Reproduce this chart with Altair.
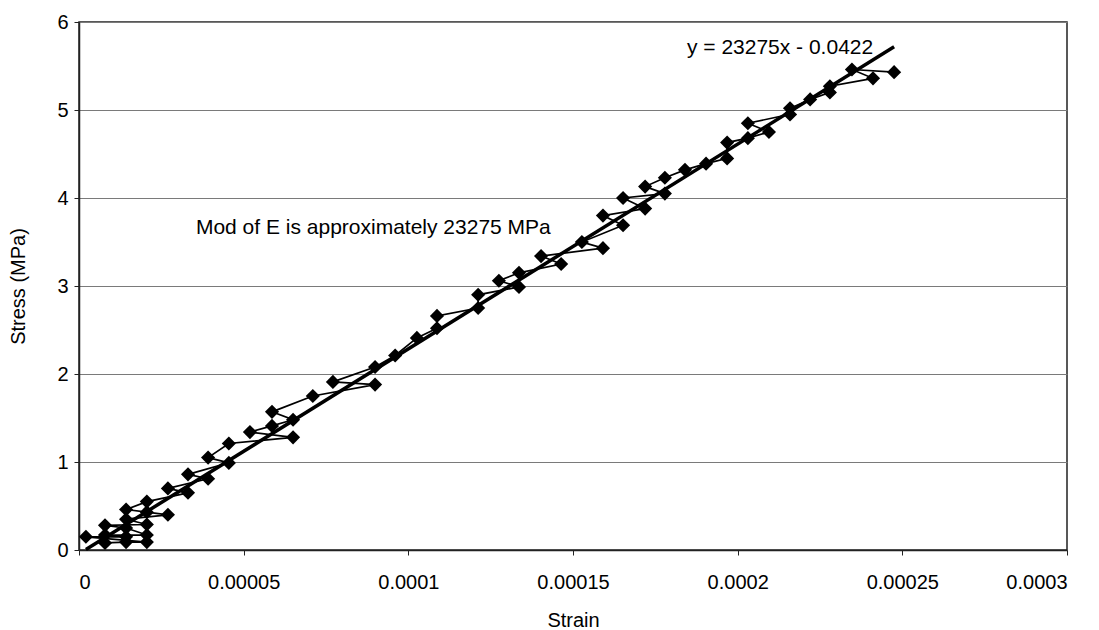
import altair as alt
import pandas as pd

# Strain / stress readings in load order
strain = [
    0.0000079, 0.0000143, 0.0000206, 0.0000021, 0.0000143, 0.0000079, 0.0000206,
    0.0000143, 0.0000079, 0.0000206, 0.0000143, 0.0000270, 0.0000206, 0.0000143,
    0.0000206, 0.0000331, 0.0000270, 0.0000392, 0.0000331, 0.0000455, 0.0000392,
    0.0000455, 0.0000650, 0.0000519, 0.0000586, 0.0000650, 0.0000586, 0.0000710,
    0.0000899, 0.0000771, 0.0000899, 0.0000960, 0.0001026, 0.0001087, 0.0001087,
    0.0001212, 0.0001212, 0.0001336, 0.0001275, 0.0001336, 0.0001464, 0.0001403,
    0.0001591, 0.0001527, 0.0001652, 0.0001591, 0.0001719, 0.0001652, 0.0001779,
    0.0001719, 0.0001779, 0.0001840, 0.0001904, 0.0001968, 0.0001968, 0.0002031,
    0.0002095, 0.0002031, 0.0002159, 0.0002159, 0.0002220, 0.0002280, 0.0002280,
    0.0002411, 0.0002347, 0.0002475,
]
stress = [
    0.08, 0.09, 0.09, 0.15, 0.15, 0.17, 0.17,
    0.25, 0.28, 0.29, 0.35, 0.40, 0.43, 0.46,
    0.55, 0.65, 0.70, 0.81, 0.86, 0.99, 1.05,
    1.21, 1.28, 1.34, 1.41, 1.48, 1.57, 1.75,
    1.88, 1.91, 2.08, 2.21, 2.41, 2.52, 2.66,
    2.75, 2.90, 2.99, 3.06, 3.15, 3.25, 3.34,
    3.43, 3.50, 3.69, 3.80, 3.88, 4.00, 4.05,
    4.13, 4.23, 4.32, 4.39, 4.45, 4.63, 4.68,
    4.75, 4.85, 4.95, 5.02, 5.12, 5.20, 5.27,
    5.36, 5.46, 5.43,
]

# Linear trendline coefficients
slope = 23275
intercept = -0.0422

x_ticks = [0, 0.00005, 0.0001, 0.00015, 0.0002, 0.00025, 0.0003]
y_ticks = [0, 1, 2, 3, 4, 5, 6]

FONT = "Liberation Sans"
FS = 20
NOTE_FS = 21

points = pd.DataFrame({"order": list(range(len(strain))), "strain": strain, "stress": stress})
fit = pd.DataFrame({"strain": [min(strain), max(strain)]})
fit["stress"] = slope * fit["strain"] + intercept

x_scale = alt.Scale(domain=[x_ticks[0], x_ticks[-1]], nice=False, zero=False)
y_scale = alt.Scale(domain=[y_ticks[0], y_ticks[-1]], nice=False, zero=False)

x_enc = alt.X(
    "strain:Q",
    scale=x_scale,
    axis=alt.Axis(
        title="Strain", values=x_ticks, labelExpr="'' + datum.value",
        grid=False, tickSize=5, labelPadding=27, labelBaseline="middle",
        titleX=494, titleY=70, titleBaseline="middle",
    ),
)
y_enc = alt.Y(
    "stress:Q",
    scale=y_scale,
    axis=alt.Axis(
        title="Stress (MPa)", values=y_ticks, format="d", grid=True,
        tickSize=5, labelPadding=6,
        titleX=-61, titleY=264, titleAngle=270, titleAlign="center", titleBaseline="middle",
    ),
)

base = alt.Chart(points)

path = base.mark_line(color="black", strokeWidth=1.7).encode(
    x=x_enc, y=y_enc, order="order:Q"
)
markers = base.mark_point(
    shape="diamond", filled=True, size=200, color="black", opacity=1
).encode(x="strain:Q", y="stress:Q")

trend = alt.Chart(fit).mark_line(color="black", strokeWidth=3.5).encode(
    x="strain:Q", y="stress:Q"
)

eq_label = f"y = {slope}x - {abs(intercept)}"
mod_label = f"Mod of E is approximately {slope} MPa"

eq_text = alt.Chart(pd.DataFrame({"t": [eq_label]})).mark_text(
    align="left", baseline="middle", font=FONT, fontSize=NOTE_FS, color="black"
).encode(x=alt.datum(0.0001846), y=alt.datum(5.70), text="t:N")

mod_text = alt.Chart(pd.DataFrame({"t": [mod_label]})).mark_text(
    align="left", baseline="middle", font=FONT, fontSize=NOTE_FS, color="black"
).encode(x=alt.datum(0.0000355), y=alt.datum(3.66), text="t:N")

chart = (
    alt.layer(path, trend, markers, eq_text, mod_text)
    .properties(
        width=988, height=528,
        autosize=alt.AutoSizeParams(type="none"),
        padding={"left": 79, "top": 22, "right": 32, "bottom": 80},
        background="white",
    )
    .configure_view(stroke="#222222", strokeWidth=1.5)
    .configure_axis(
        labelFont=FONT, labelFontSize=FS, labelColor="black",
        titleFont=FONT, titleFontSize=FS, titleFontWeight="normal", titleColor="black",
        domainColor="#222222", domainWidth=1.5, tickColor="#222222", tickWidth=1,
        gridColor="#7a7a7a", gridWidth=1,
    )
)

chart.save("out.html", embed_options={"renderer": "svg", "actions": False})
